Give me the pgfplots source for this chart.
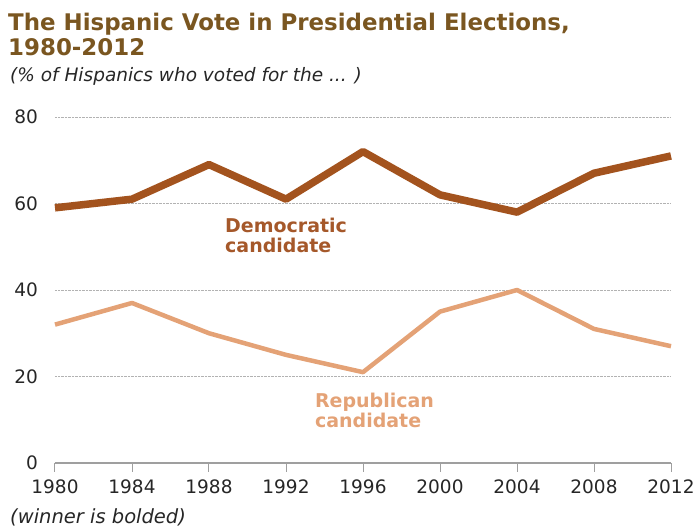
\documentclass[border=0pt]{standalone}
\usepackage{pgfplots}
\pgfplotsset{compat=1.18}
\usepackage{fontspec}
\setmainfont{DejaVu Sans}

\definecolor{demc}{RGB}{163,83,30}
\definecolor{demtext}{RGB}{165,88,42}
\definecolor{repc}{RGB}{228,162,118}
\definecolor{titlec}{RGB}{122,86,32}
\definecolor{gridc}{RGB}{178,178,178}

\begin{document}
\begin{tikzpicture}
    \path[use as bounding box] (-55pt,-69pt) rectangle (643pt,463pt);

    \begin{axis}[
        at={(0pt,0pt)}, anchor=south west,
        scale only axis,
        width=616pt, height=346pt,
        xmin=1980, xmax=2012,
        ymin=0, ymax=80,
        xtick={1980,1984,...,2012},
        ytick={0,20,40,60,80},
        axis x line*=bottom,
        axis y line*=left,
        y axis line style={draw=none},
        x axis line style={draw=gray!75, line width=1.2pt},
        tick align=outside,
        major tick length=9pt,
        xtick style={draw=gray!75, line width=1pt},
        ytick style={draw=none},
        ymajorgrids,
        grid style={gridc, densely dotted, line width=0.9pt},
        /pgf/number format/assume math mode=true,
        /pgf/number format/1000 sep={},
        ticklabel style={font=\fontsize{18.5}{20}\selectfont, text=black!85},
        xticklabel style={yshift=-4pt},
        yticklabel style={anchor=east, inner sep=0pt, xshift=-8pt},
        clip=false,
        ]
        \addplot[demc, line width=7.5pt, line join=round] coordinates {
            (1980,59) (1984,61) (1988,69) (1992,61) (1996,72)
            (2000,62) (2004,58) (2008,67) (2012,71)
        };
        \addplot[repc, line width=4.5pt, line join=round] coordinates {
            (1980,32) (1984,37) (1988,30) (1992,25) (1996,21)
            (2000,35) (2004,40) (2008,31) (2012,27)
        };

        \node[anchor=base west, inner sep=0pt, demtext, font=\fontsize{19}{22}\selectfont\bfseries] at (axis cs:1988.83,53.4) {Democratic};
        \node[anchor=base west, inner sep=0pt, demtext, font=\fontsize{19}{22}\selectfont\bfseries] at (axis cs:1988.83,48.6) {candidate};
        \node[anchor=base west, inner sep=0pt, repc, font=\fontsize{19}{22}\selectfont\bfseries] at (axis cs:1993.5,12.9) {Republican};
        \node[anchor=base west, inner sep=0pt, repc, font=\fontsize{19}{22}\selectfont\bfseries] at (axis cs:1993.5,8.1) {candidate};
    \end{axis}

    \node[anchor=base west, inner sep=0pt, titlec, font=\fontsize{22.9}{26}\selectfont\bfseries] at (-47pt,432pt) {The Hispanic Vote in Presidential Elections,};
    \node[anchor=base west, inner sep=0pt, titlec, font=\fontsize{22.9}{26}\selectfont\bfseries] at (-47pt,407pt) {1980-2012};
    \node[anchor=base west, inner sep=0pt, black!85, font=\fontsize{18.5}{21}\selectfont\itshape] at (-45pt,381pt) {(\% of Hispanics who voted for the ... )};
    \node[anchor=base west, inner sep=0pt, black!85, font=\fontsize{19.5}{22}\selectfont\itshape] at (-45pt,-60pt) {(winner is bolded)};
\end{tikzpicture}
\end{document}
